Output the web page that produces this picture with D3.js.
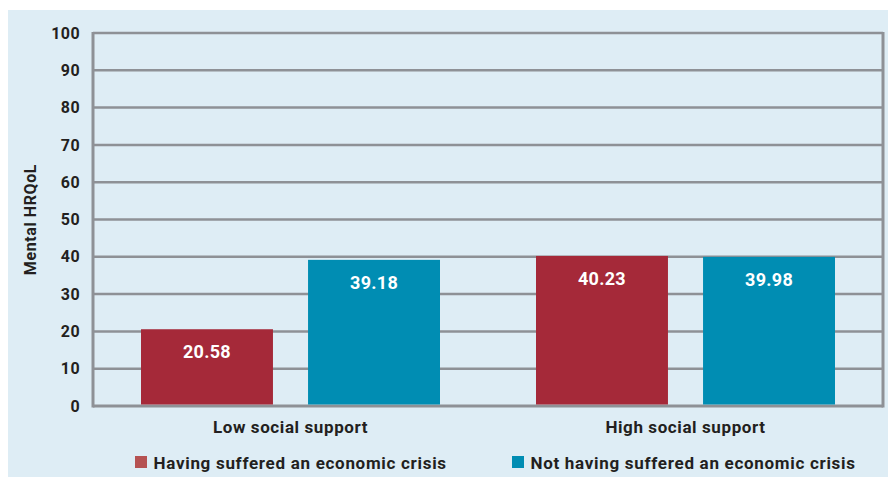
<!DOCTYPE html>
<html>
<head>
<meta charset="utf-8">
<script src="https://cdn.jsdelivr.net/npm/d3@7"></script>
<style>
  body { margin: 0; background: #fff; }
  text { font-family: Roboto, "DejaVu Sans", sans-serif; font-weight: 700; }
</style>
</head>
<body>
<svg width="888" height="477"></svg>
<script>
// chart values
const groups = ["Low social support", "High social support"];
const seriesNames = ["Having suffered an economic crisis", "Not having suffered an economic crisis"];
const crisisValues = [20.58, 40.23];
const noCrisisValues = [39.18, 39.98];
const yTicks = [0, 10, 20, 30, 40, 50, 60, 70, 80, 90, 100];
const colors = ["#a52939", "#008db3"];

const svg = d3.select('svg');

// panel background
svg.append('rect')
  .attr('x', 8).attr('y', 10)
  .attr('width', 880).attr('height', 467)
  .attr('fill', '#deedf5');

const plotLeft = 93, plotRight = 883, plotTop = 33, plotBottom = 406;

const x = d3.scaleBand().domain(groups).range([plotLeft, plotRight]);
const xInner = d3.scaleBand().domain([0, 1]).range([0, 299]).paddingInner(0.21);
const y = d3.scaleLinear().domain([0, 100]).range([plotBottom, plotTop]);

// grid lines
svg.append('g').selectAll('line').data(yTicks).enter().append('line')
  .attr('x1', plotLeft).attr('x2', plotRight)
  .attr('y1', d => y(d)).attr('y2', d => y(d))
  .attr('stroke', '#8e9196')
  .attr('stroke-width', d => d === 0 ? 3 : 2.5);

// frame sides
svg.append('line').attr('x1', plotLeft).attr('x2', plotLeft).attr('y1', plotTop - 1).attr('y2', plotBottom + 1.5)
  .attr('stroke', '#8e9196').attr('stroke-width', 3);
svg.append('line').attr('x1', plotRight).attr('x2', plotRight).attr('y1', plotTop - 1).attr('y2', plotBottom + 1.5)
  .attr('stroke', '#8e9196').attr('stroke-width', 3);

// y axis labels
const yAxis = d3.axisLeft(y).tickValues(yTicks).tickSize(0).tickPadding(13);
const gy = svg.append('g').attr('transform', `translate(${plotLeft},0)`).call(yAxis);
gy.select('.domain').remove();
gy.selectAll('text').attr('font-size', 16).attr('fill', '#231f20')
  .style('font-family', 'Roboto, sans-serif').style('font-weight', 700)
  .style('letter-spacing', '0.4px');

svg.append('text')
  .attr('transform', 'translate(36,' + ((plotTop + plotBottom) / 2) + ') rotate(-90)')
  .attr('text-anchor', 'middle')
  .attr('font-size', 16)
  .attr('letter-spacing', 0.6)
  .attr('fill', '#231f20')
  .text('Mental HRQoL');

// bars
const rows = groups.map((g, i) => [
  { group: g, s: 0, v: crisisValues[i] },
  { group: g, s: 1, v: noCrisisValues[i] }
]).flat();

const barX = d => x(d.group) + x.bandwidth() / 2 - 149.5 + xInner(d.s);

svg.append('g').selectAll('rect').data(rows).enter().append('rect')
  .attr('x', barX)
  .attr('y', d => y(d.v))
  .attr('width', xInner.bandwidth())
  .attr('height', d => plotBottom - 1.5 - y(d.v))
  .attr('fill', d => colors[d.s]);

svg.append('g').selectAll('text').data(rows).enter().append('text')
  .attr('x', d => barX(d) + xInner.bandwidth() / 2)
  .attr('y', d => y(d.v) + 29)
  .attr('text-anchor', 'middle')
  .attr('font-size', 18)
  .attr('letter-spacing', 0.3)
  .attr('fill', '#fff')
  .text(d => d.v.toFixed(2));

// category labels
svg.append('g').selectAll('text').data(groups).enter().append('text')
  .attr('x', d => x(d) + x.bandwidth() / 2)
  .attr('y', 433)
  .attr('text-anchor', 'middle')
  .attr('font-size', 17)
  .attr('letter-spacing', 0.6)
  .attr('fill', '#231f20')
  .text(d => d);

// legend
const legendX = [135, 512];
const lg = svg.append('g').selectAll('g').data(seriesNames).enter().append('g')
  .attr('transform', (d, i) => `translate(${legendX[i]},456)`);
lg.append('rect').attr('width', 12).attr('height', 12)
  .attr('fill', (d, i) => i === 0 ? '#b55252' : colors[1]);
lg.append('text').attr('x', 18.5).attr('y', 12.5)
  .attr('font-size', 17).attr('letter-spacing', 0.7).attr('fill', '#231f20')
  .text(d => d);
</script>
</body>
</html>
